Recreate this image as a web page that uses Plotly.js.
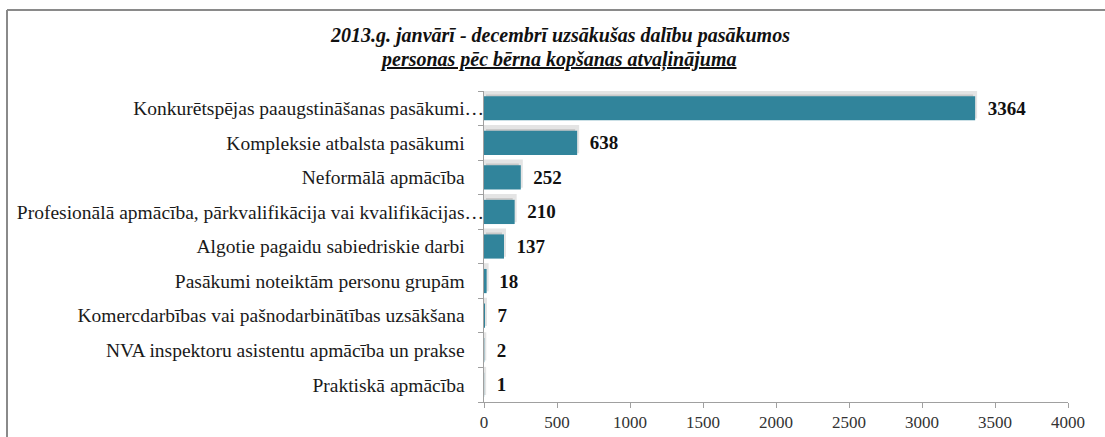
<!DOCTYPE html>
<html>
<head>
<meta charset="utf-8">
<script src="https://cdn.plot.ly/plotly-3.0.1.min.js"></script>
<style>
html,body{margin:0;padding:0;background:#fff;}
#chart{width:1105px;height:437px;}
</style>
</head>
<body>
<div id="chart"></div>
<script>
const categories = [
  "Konkurētspējas paaugstināšanas pasākumi…",
  "Kompleksie atbalsta pasākumi",
  "Neformālā apmācība",
  "Profesionālā apmācība, pārkvalifikācija vai kvalifikācijas…",
  "Algotie pagaidu sabiedriskie darbi",
  "Pasākumi noteiktām personu grupām",
  "Komercdarbības vai pašnodarbinātības uzsākšana",
  "NVA inspektoru asistentu apmācība un prakse",
  "Praktiskā apmācība"
];
const values = [3364, 638, 252, 210, 137, 18, 7, 2, 1];
const xTicks = [0, 500, 1000, 1500, 2000, 2500, 3000, 3500, 4000];
const titleLine1 = "2013.g. janvārī - decembrī uzsākušas dalību pasākumos";
const titleLine2 = "personas pēc bērna kopšanas atvaļinājuma";

const SERIF = "Liberation Serif, Times New Roman, serif";
const tickText = categories.map(c => c.endsWith("…") ? c : c + "\u2002\u2002");

const shadow = {
  type: "bar", orientation: "h",
  x: values, y: categories,
  width: 0.7, offset: -0.46,
  marker: {color: "#c9c9c9", line: {color: "#e4e4e4", width: 4}},
  hoverinfo: "skip", showlegend: false
};
const bars = {
  type: "bar", orientation: "h",
  x: values, y: categories,
  width: 0.7, offset: -0.35,
  marker: {color: "#31849B", line: {width: 0}},
  text: values.map(String),
  texttemplate: "\u2002%{x}",
  textposition: "outside",
  cliponaxis: false,
  textfont: {family: SERIF, size: 19, color: "#111", weight: "bold"},
  showlegend: false
};

const L = 484, R = 37, T = 91, B = 35;
const W = 1105 - L - R, H = 437 - T - B;
const px = v => (v - L) / W;
const py = v => (437 - B - v) / H;

const layout = {
  width: 1105, height: 437,
  margin: {l: L, r: R, t: T, b: B},
  paper_bgcolor: "#fff", plot_bgcolor: "#fff",
  barmode: "overlay",
  font: {family: SERIF, color: "#1a1a1a"},
  xaxis: {
    range: [0, 4000], tickvals: xTicks, ticktext: xTicks.map(String),
    showgrid: false, zeroline: false,
    showline: true, linecolor: "#a0a0a0", linewidth: 1,
    ticks: "outside", ticklen: 5, tickcolor: "#a0a0a0",
    tickfont: {family: SERIF, size: 17, color: "#333"},
    fixedrange: true
  },
  yaxis: {
    type: "category", autorange: "reversed",
    tickvals: categories, ticktext: tickText,
    tickson: "boundaries",
    showgrid: false, zeroline: false,
    showline: true, linecolor: "#a0a0a0", linewidth: 1,
    ticks: "outside", ticklen: 5, tickcolor: "#a0a0a0",
    ticklabelstandoff: -5,
    tickfont: {family: SERIF, size: 19.5, color: "#1a1a1a"},
    fixedrange: true
  },
  annotations: [
    {xref: "paper", yref: "paper", x: px(560), y: py(35), xanchor: "center", yanchor: "middle",
     text: "<b><i>" + titleLine1 + "</i></b>", showarrow: false,
     font: {family: SERIF, size: 20, color: "#111"}},
    {xref: "paper", yref: "paper", x: px(558), y: py(60), xanchor: "center", yanchor: "middle",
     text: "<b><i><span style='text-decoration:underline'>" + titleLine2 + "</span></i></b>", showarrow: false,
     font: {family: SERIF, size: 20, color: "#111"}}
  ],
  shapes: [
    {type: "line", xref: "paper", yref: "paper", x0: px(7), x1: px(1106), y0: py(10), y1: py(10), line: {color: "#8a8a8a", width: 2}, layer: "above"},
    {type: "line", xref: "paper", yref: "paper", x0: px(7), x1: px(7), y0: py(10), y1: py(438), line: {color: "#8a8a8a", width: 2}, layer: "above"}
  ]
};

Plotly.newPlot("chart", [shadow, bars], layout, {displayModeBar: false, staticPlot: true});
</script>
</body>
</html>
